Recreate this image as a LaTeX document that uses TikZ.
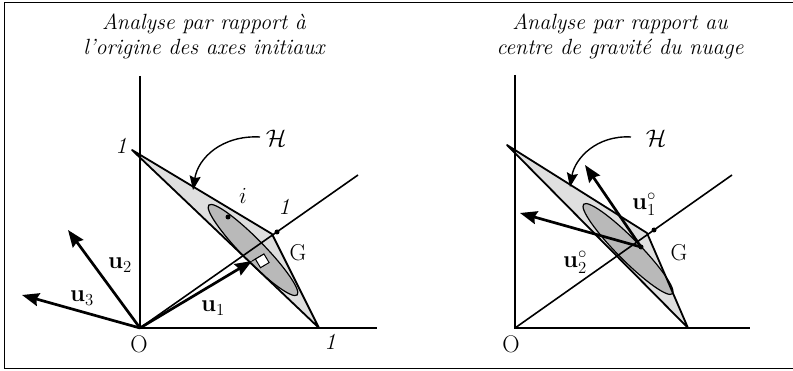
\RequirePackage{fix-cm}
\documentclass[tikz,border=0pt]{standalone}
\usepackage{amsmath}
\usepackage{amssymb}
\usepackage{xcolor}
\usepackage{tikz}
\usetikzlibrary{arrows.meta}

\begin{document}
\begin{tikzpicture}[x=1pt,y=-1pt,>={Stealth[length=17pt,width=13pt,inset=2pt]},
  axis/.style={line width=1.3pt},
  edge/.style={line width=1.8pt,line join=round},
  vec/.style={->,line width=2.7pt},
  dot/.style={circle,fill=black,inner sep=0pt,minimum size=5pt},
  lab/.style={font=\fontsize{23}{26}\selectfont,inner sep=0pt},
  vlab/.style={font=\fontsize{24}{26}\selectfont,inner sep=0pt},
  big/.style={font=\fontsize{24}{26}\selectfont,inner sep=0pt},
  title/.style={font=\fontsize{22}{25}\selectfont\itshape,align=center}]
  \useasboundingbox (0,0) rectangle (793,371);
  \draw[line width=1pt] (793,3) -- (4,3) -- (4,369) -- (793,369);

  % left panel
  \node[title] (t1) at (204,36) {Analyse par rapport \`a\\l'origine des axes initiaux};
  \coordinate (O1) at (140,328);
  \coordinate (Y1) at (140,76);
  \coordinate (X1) at (377,328);
  \coordinate (D1) at (358,175);
  \coordinate (A1) at (132,150);
  \coordinate (B1) at (319,328);
  \coordinate (C1) at (272,234);
  \coordinate (U1) at (252,261);
  \coordinate (P1) at (264,254);
  \coordinate (U2) at (68,230);
  \coordinate (U3) at (22,295);
  \coordinate (H1s) at (260,137);
  \coordinate (H1e) at (193,190);
  \fill[gray!25] (A1) -- (C1) -- (B1) -- cycle;
  \fill[gray!55,rotate around={-45.5:(253,250)}] (253,250) ellipse [x radius=63,y radius=11];
  \draw[line width=1.2pt,rotate around={-45.5:(253,250)}] (253,250) ellipse [x radius=63,y radius=11];
  \draw[edge] (A1) -- (C1) -- (B1) -- cycle;
  \draw[axis] (Y1) -- (O1) -- (X1);
  \draw[axis,line width=1.6pt] (O1) -- (D1);
  \draw[line width=1pt] (U1) -- (P1);
  \draw[line width=1pt,fill=white] (P1) -- ++(5.1,8.6) -- ++(-8.6,5.1) -- ++(-5.1,-8.6) -- cycle;
  \draw[vec] (O1) -- (U1);
  \draw[vec] (O1) -- (U2);
  \draw[vec] (O1) -- (U3);
  \node[dot] (i1) at (228,217) {};
  \node[dot] (G1) at (277,232) {};
  \node[lab] (li) at (243,196) {$i$};
  \node[lab] (l1y) at (121,146) {\textit{1}};
  \node[lab] (l1x) at (330,342) {\textit{1}};
  \node[lab] (l1d) at (284,207) {\textit{1}};
  \node[lab] (lG1) at (298,253) {G};
  \node[big] (lO1) at (139,344) {O};
  \node[vlab] (lu1) at (213,308) {$\mathbf{u}_1$};
  \node[vlab] (lu2) at (120,265) {$\mathbf{u}_2$};
  \node[vlab] (lu3) at (82,298) {$\mathbf{u}_3$};
  \node[big] (lH1) at (276,138) {$\mathcal{H}$};
  \draw[->,line width=1.4pt,>={Stealth[length=14pt,width=11pt,inset=2pt]}] (H1s) .. controls (222,135) and (198,158) .. (H1e);

  % right panel
  \node[title] (t2) at (620,36) {Analyse par rapport au\\centre de gravit\'e du nuage};
  \coordinate (O2) at (515,328);
  \coordinate (Y2) at (515,75);
  \coordinate (X2) at (750,328);
  \coordinate (D2) at (732,175);
  \coordinate (A2) at (507,145);
  \coordinate (B2) at (688,328);
  \coordinate (C2) at (647,233);
  \coordinate (Gc) at (641,247);
  \coordinate (V1) at (585,165);
  \coordinate (V2) at (520,213);
  \coordinate (H2s) at (631,137);
  \coordinate (H2e) at (570,187);
  \fill[gray!25] (A2) -- (C2) -- (B2) -- cycle;
  \fill[gray!55,rotate around={-45.3:(628,249)}] (628,249) ellipse [x radius=63,y radius=11];
  \draw[line width=1.2pt,rotate around={-45.3:(628,249)}] (628,249) ellipse [x radius=63,y radius=11];
  \draw[edge] (A2) -- (C2) -- (B2) -- cycle;
  \draw[axis] (Y2) -- (O2) -- (X2);
  \draw[axis,line width=1.6pt] (O2) -- (D2);
  \draw[vec] (Gc) -- (V1);
  \draw[vec] (Gc) -- (V2);
  \node[dot] (Gd) at (Gc) {};
  \node[dot] (G2) at (654,230) {};
  \node[lab] (lG2) at (679,253) {G};
  \node[big] (lO2) at (511,344) {O};
  \node[vlab] (lv1) at (644,204) {$\mathbf{u}_1^{\circ}$};
  \node[vlab] (lv2) at (575,262) {$\mathbf{u}_2^{\circ}$};
  \node[big] (lH2) at (656,138) {$\mathcal{H}$};
  \draw[->,line width=1.4pt,>={Stealth[length=14pt,width=11pt,inset=2pt]}] (H2s) .. controls (597,135) and (575,158) .. (H2e);
\end{tikzpicture}
\end{document}
